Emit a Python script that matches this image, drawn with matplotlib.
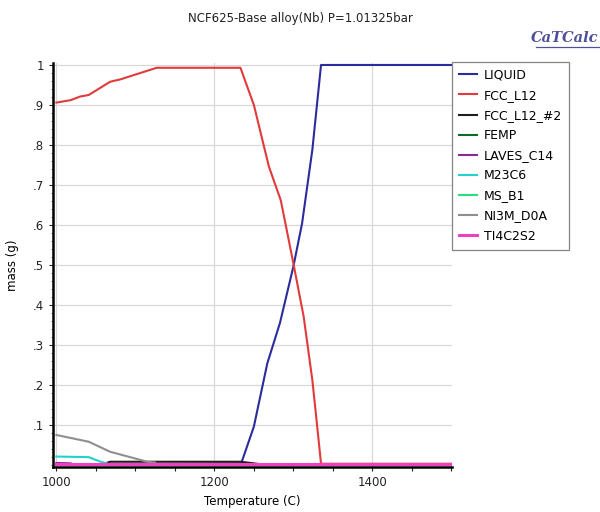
import matplotlib
matplotlib.use("Agg")
import matplotlib.pyplot as plt
from matplotlib.lines import Line2D
from matplotlib.ticker import MultipleLocator, FixedLocator

# ---- data -------------------------------------------------------------------
liquid_t = [1000, 1234, 1250, 1267, 1283, 1300, 1311, 1324, 1335, 1500]
liquid_m = [0.0, 0.004, 0.096, 0.254, 0.355, 0.496, 0.604, 0.788, 1.0, 1.0]

fcc_t = [1000, 1018, 1030, 1041, 1068, 1081, 1127, 1233, 1250, 1269, 1284,
         1300, 1313, 1324, 1328, 1335, 1500]
fcc_m = [0.906, 0.912, 0.921, 0.925, 0.958, 0.964, 0.993, 0.993, 0.90, 0.746,
         0.662, 0.504, 0.371, 0.212, 0.137, 0.003, 0.003]

fcc2_t = [1062, 1068, 1233, 1262, 1500]
fcc2_m = [0.004, 0.008, 0.008, 0.001, 0.001]

femp_t = [1000, 1500]
femp_m = [0.0, 0.0]

laves_t = [1000, 1018]
laves_m = [0.005, 0.004]

m23c6_t = [1000, 1041, 1056, 1064]
m23c6_m = [0.021, 0.0195, 0.008, 0.004]

msb1_t = [1000, 1500]
msb1_m = [0.0, 0.0]

ni3m_t = [1000, 1041, 1068, 1115, 1125]
ni3m_m = [0.075, 0.058, 0.033, 0.008, 0.006]

ti4c2s2_t = [1000, 1500]
ti4c2s2_m = [0.003, 0.003]

series = [
    ("LIQUID", liquid_t, liquid_m, "#2b2b9e"),
    ("FCC_L12", fcc_t, fcc_m, "#e23a3a"),
    ("FCC_L12_#2", fcc2_t, fcc2_m, "#1e1e1e"),
    ("FEMP", femp_t, femp_m, "#0b6b2a"),
    ("LAVES_C14", laves_t, laves_m, "#8e2a8e"),
    ("M23C6", m23c6_t, m23c6_m, "#22d3cc"),
    ("MS_B1", msb1_t, msb1_m, "#22e07a"),
    ("NI3M_D0A", ni3m_t, ni3m_m, "#8f8f8f"),
    ("TI4C2S2", ti4c2s2_t, ti4c2s2_m, "#f040c0"),
]

yticks = [0.1, 0.2, 0.3, 0.4, 0.5, 0.6, 0.7, 0.8, 0.9, 1.0]
ylabels = [".1", ".2", ".3", ".4", ".5", ".6", ".7", ".8", ".9", "1"]
xticks = [1000, 1200, 1400]

plt.rcParams["font.family"] = ["DejaVu Sans"]
fig = plt.figure(figsize=(6.0, 5.12), dpi=100)
ax = fig.add_axes([0.088, 0.088, 0.665, 0.789])

for name, t, m, c in series:
    lw = 2.2 if name == "TI4C2S2" else 1.5
    ax.plot(t, m, color=c, linewidth=lw, label=name, solid_joinstyle="round")

ax.set_xlim(995.5, 1500.5)
ax.set_ylim(-0.005, 1.005)
ax.xaxis.set_major_locator(FixedLocator(xticks))
ax.xaxis.set_minor_locator(MultipleLocator(50))
ax.yaxis.set_minor_locator(MultipleLocator(0.02))
ax.set_yticks(yticks)
ax.set_yticklabels(ylabels)
ax.tick_params(labelsize=8.5, length=3, width=0.8, colors="#222222")
ax.tick_params(axis="x", which="minor", length=3, width=0.8, colors="#222222")
ax.tick_params(axis="y", which="minor", length=1.5, width=0.6, colors="#555555")
ax.grid(True, which="major", color="#d8d8d8", linewidth=0.9)
for s in ("top", "right"):
    ax.spines[s].set_visible(False)
ax.spines["left"].set_linewidth(1.8)
ax.spines["bottom"].set_linewidth(1.8)
ax.set_axisbelow(True)

ax.set_xlabel("Temperature (C)", fontsize=8.5, labelpad=4)
ax.set_ylabel("mass (g)", fontsize=8.5, labelpad=10)

fig.text(0.5, 0.964, "NCF625-Base alloy(Nb) P=1.01325bar", ha="center",
         va="center", fontsize=8.5, color="#222222")
fig.text(0.998, 0.925, "CaTCalc", ha="right", va="center", fontsize=10.5,
         family="DejaVu Serif", style="italic", weight="bold", color="#50509a")
fig.add_artist(Line2D([0.893, 0.998], [0.908, 0.908], transform=fig.transFigure,
                      color="#50509a", linewidth=0.9))

leg = ax.legend(loc="upper left", bbox_to_anchor=(1.0, 1.003), fontsize=9,
                frameon=True, fancybox=False, edgecolor="#666666",
                handlelength=1.5, handletextpad=0.5, labelspacing=0.57,
                borderpad=0.55, borderaxespad=0.0)
leg.get_frame().set_linewidth(0.9)

fig.savefig("out.png", dpi=100)
